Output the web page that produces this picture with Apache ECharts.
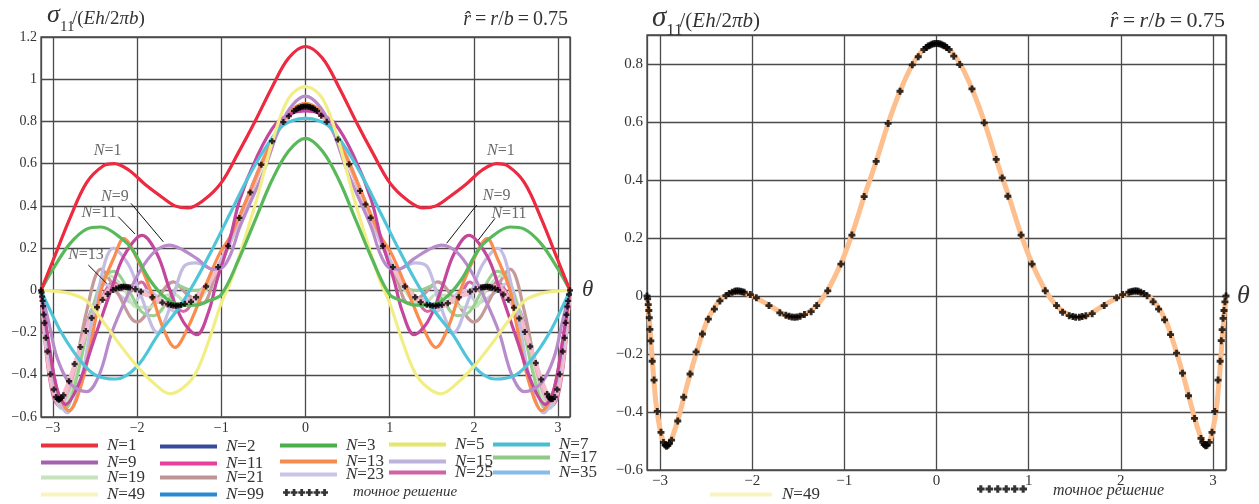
<!DOCTYPE html>
<html><head><meta charset="utf-8">
<script src="https://cdn.jsdelivr.net/npm/echarts@6/dist/echarts.min.js"></script>
<style>html,body{margin:0;padding:0;background:#fff}#c{width:1259px;height:504px}</style>
</head><body><div id="c"></div>
<script>
// ---------- data: [theta, sigma11/(Eh/2πb)] ----------
const n1 = [[-3.1416,0],[-3.0,0.14],[-2.8,0.34],[-2.6,0.51],[-2.4,0.59],[-2.27,0.60],[-2.1,0.57],[-1.9,0.50],[-1.7,0.44],[-1.55,0.40],[-1.4,0.39],[-1.2,0.43],[-1.0,0.51],[-0.8,0.65],[-0.6,0.80],[-0.4,0.96],[-0.2,1.10],[0,1.155],[0.2,1.10],[0.4,0.96],[0.6,0.80],[0.8,0.65],[1.0,0.51],[1.2,0.43],[1.4,0.39],[1.55,0.40],[1.7,0.44],[1.9,0.50],[2.1,0.57],[2.27,0.60],[2.4,0.59],[2.6,0.51],[2.8,0.34],[3.0,0.14],[3.1416,0]];
const n2 = n1; // N=2 lies under N=1 in the picture
const n3 = [[-3.1416,0],[-3.0,0.10],[-2.8,0.22],[-2.6,0.29],[-2.43,0.30],[-2.2,0.25],[-2.05,0.19],[-1.85,0.05],[-1.65,-0.04],[-1.45,-0.07],[-1.3,-0.07],[-1.15,-0.05],[-1.0,-0.02],[-0.8,0.14],[-0.6,0.33],[-0.4,0.52],[-0.2,0.66],[0,0.72],[0.2,0.66],[0.4,0.52],[0.6,0.33],[0.8,0.14],[1.0,-0.02],[1.15,-0.05],[1.3,-0.07],[1.45,-0.07],[1.65,-0.04],[1.85,0.05],[2.05,0.19],[2.2,0.25],[2.43,0.30],[2.6,0.29],[2.8,0.22],[3.0,0.10],[3.1416,0]];
const n5 = [[-3.1416,0],[-2.95,-0.005],[-2.8,-0.015],[-2.6,-0.05],[-2.4,-0.15],[-2.2,-0.26],[-2.0,-0.36],[-1.8,-0.44],[-1.61,-0.49],[-1.45,-0.46],[-1.3,-0.39],[-1.15,-0.24],[-1.0,-0.06],[-0.9,0.03],[-0.78,0.17],[-0.58,0.43],[-0.39,0.71],[-0.2,0.91],[0,0.965],[0.2,0.91],[0.39,0.71],[0.58,0.43],[0.78,0.17],[0.9,0.03],[1.0,-0.06],[1.15,-0.24],[1.3,-0.39],[1.45,-0.46],[1.61,-0.49],[1.8,-0.44],[2.0,-0.36],[2.2,-0.26],[2.4,-0.15],[2.6,-0.05],[2.8,-0.015],[2.95,-0.005],[3.1416,0]];
const n7 = [[-3.1416,0],[-3.05,-0.08],[-2.9,-0.2],[-2.7,-0.32],[-2.5,-0.40],[-2.25,-0.42],[-2.0,-0.36],[-1.75,-0.21],[-1.5,-0.08],[-1.3,0.05],[-1.1,0.2],[-0.9,0.36],[-0.7,0.52],[-0.5,0.66],[-0.3,0.77],[-0.15,0.805],[0,0.815],[0.15,0.805],[0.3,0.77],[0.5,0.66],[0.7,0.52],[0.9,0.36],[1.1,0.2],[1.3,0.05],[1.5,-0.08],[1.75,-0.21],[2.0,-0.36],[2.25,-0.42],[2.5,-0.40],[2.7,-0.32],[2.9,-0.2],[3.05,-0.08],[3.1416,0]];
const n9 = [[-3.1416,0],[-3.05,-0.15],[-2.95,-0.32],[-2.8,-0.44],[-2.6,-0.48],[-2.45,-0.40],[-2.3,-0.2],[-2.12,-0.03],[-1.96,0.095],[-1.8,0.18],[-1.62,0.214],[-1.45,0.19],[-1.29,0.15],[-1.1,0.10],[-0.98,0.11],[-0.88,0.18],[-0.78,0.30],[-0.5,0.56],[-0.3,0.78],[-0.15,0.88],[0,0.92],[0.15,0.88],[0.3,0.78],[0.5,0.56],[0.78,0.30],[0.88,0.18],[0.98,0.11],[1.1,0.10],[1.29,0.15],[1.45,0.19],[1.62,0.214],[1.8,0.18],[1.96,0.095],[2.12,-0.03],[2.3,-0.2],[2.45,-0.40],[2.6,-0.48],[2.8,-0.44],[2.95,-0.32],[3.05,-0.15],[3.1416,0]];
const n11 = [[-3.1416,0],[-3.05,-0.25],[-2.95,-0.47],[-2.85,-0.54],[-2.7,-0.45],[-2.5,-0.22],[-2.31,0.0],[-2.16,0.16],[-1.94,0.26],[-1.76,0.17],[-1.61,0.0],[-1.45,-0.15],[-1.29,-0.21],[-1.15,-0.10],[-1.05,0.05],[-0.9,0.24],[-0.78,0.43],[-0.58,0.63],[-0.35,0.79],[-0.15,0.84],[0,0.85],[0.15,0.84],[0.35,0.79],[0.58,0.63],[0.78,0.43],[0.9,0.24],[1.05,0.05],[1.15,-0.10],[1.29,-0.21],[1.45,-0.15],[1.61,0.0],[1.76,0.17],[1.94,0.26],[2.16,0.16],[2.31,0.0],[2.5,-0.22],[2.7,-0.45],[2.85,-0.54],[2.95,-0.47],[3.05,-0.25],[3.1416,0]];
const n13 = [[-3.1416,0],[-3.05,-0.25],[-2.95,-0.47],[-2.81,-0.57],[-2.65,-0.43],[-2.5,-0.15],[-2.43,0.0],[-2.27,0.16],[-2.16,0.245],[-2.0,0.15],[-1.84,0.0],[-1.7,-0.17],[-1.55,-0.27],[-1.4,-0.18],[-1.2,0.01],[-1.02,0.175],[-0.9,0.25],[-0.7,0.43],[-0.5,0.62],[-0.3,0.78],[-0.15,0.86],[0,0.885],[0.15,0.86],[0.3,0.78],[0.5,0.62],[0.7,0.43],[0.9,0.25],[1.02,0.175],[1.2,0.01],[1.4,-0.18],[1.55,-0.27],[1.7,-0.17],[1.84,0.0],[2.0,0.15],[2.16,0.245],[2.27,0.16],[2.43,0.0],[2.5,-0.15],[2.65,-0.43],[2.81,-0.57],[2.95,-0.47],[3.05,-0.25],[3.1416,0]];
const n15 = [[-3.1416,0],[-3.05,-0.3],[-2.95,-0.5],[-2.83,-0.58],[-2.68,-0.45],[-2.5,-0.08],[-2.28,0.20],[-2.1,0.12],[-1.95,-0.03],[-1.76,-0.20],[-1.6,-0.07],[-1.45,0.11],[-1.3,0.13],[-1.1,0.10],[-0.95,0.18],[-0.8,0.33],[-0.6,0.53],[-0.4,0.71],[-0.2,0.84],[0,0.88],[0.2,0.84],[0.4,0.71],[0.6,0.53],[0.8,0.33],[0.95,0.18],[1.1,0.10],[1.3,0.13],[1.45,0.11],[1.6,-0.07],[1.76,-0.20],[1.95,-0.03],[2.1,0.12],[2.28,0.20],[2.5,-0.08],[2.68,-0.45],[2.83,-0.58],[2.95,-0.5],[3.05,-0.3],[3.1416,0]];
const n17 = [[-3.1416,0],[-3.05,-0.28],[-2.95,-0.50],[-2.85,-0.56],[-2.72,-0.42],[-2.55,-0.12],[-2.4,0.06],[-2.28,0.09],[-2.1,0.0],[-1.95,-0.1],[-1.8,-0.12],[-1.62,-0.04],[-1.5,0.02],[-1.35,0.0],[-1.2,0.01],[-1.05,0.1],[-0.9,0.22],[-0.78,0.34],[-0.65,0.46],[-0.52,0.59],[-0.4,0.70],[-0.26,0.80],[-0.13,0.855],[0,0.875],[0.13,0.855],[0.26,0.80],[0.4,0.70],[0.52,0.59],[0.65,0.46],[0.78,0.34],[0.9,0.22],[1.05,0.1],[1.2,0.01],[1.35,0.0],[1.5,0.02],[1.62,-0.04],[1.8,-0.12],[1.95,-0.1],[2.1,0.0],[2.28,0.09],[2.4,0.06],[2.55,-0.12],[2.72,-0.42],[2.85,-0.56],[2.95,-0.50],[3.05,-0.28],[3.1416,0]];
const n19 = [[-3.1416,0],[-3.06,-0.3],[-2.97,-0.50],[-2.88,-0.55],[-2.76,-0.45],[-2.6,-0.2],[-2.45,0.02],[-2.33,0.07],[-2.18,0.02],[-2.0,-0.08],[-1.85,-0.08],[-1.7,-0.03],[-1.55,-0.02],[-1.4,-0.07],[-1.25,-0.04],[-1.1,0.06],[-0.95,0.18],[-0.8,0.33],[-0.65,0.46],[-0.52,0.6],[-0.4,0.71],[-0.26,0.8],[-0.13,0.85],[0,0.87],[0.13,0.85],[0.26,0.8],[0.4,0.71],[0.52,0.6],[0.65,0.46],[0.8,0.33],[0.95,0.18],[1.1,0.06],[1.25,-0.04],[1.4,-0.07],[1.55,-0.02],[1.7,-0.03],[1.85,-0.08],[2.0,-0.08],[2.18,0.02],[2.33,0.07],[2.45,0.02],[2.6,-0.2],[2.76,-0.45],[2.88,-0.55],[2.97,-0.50],[3.06,-0.3],[3.1416,0]];
const n21 = [[-3.1416,0],[-3.05,-0.3],[-2.95,-0.52],[-2.86,-0.56],[-2.75,-0.40],[-2.6,-0.1],[-2.43,0.10],[-2.25,0.0],[-2.0,-0.15],[-1.78,-0.05],[-1.57,0.04],[-1.4,-0.02],[-1.22,-0.06],[-1.08,0.06],[-0.95,0.19],[-0.8,0.32],[-0.65,0.46],[-0.52,0.6],[-0.4,0.71],[-0.26,0.8],[-0.13,0.855],[0,0.88],[0.13,0.855],[0.26,0.8],[0.4,0.71],[0.52,0.6],[0.65,0.46],[0.8,0.32],[0.95,0.19],[1.08,0.06],[1.22,-0.06],[1.4,-0.02],[1.57,0.04],[1.78,-0.05],[2.0,-0.15],[2.25,0.0],[2.43,0.10],[2.6,-0.1],[2.75,-0.40],[2.86,-0.56],[2.95,-0.52],[3.05,-0.3],[3.1416,0]];
const n23 = [[-3.1416,0],[-3.07,-0.3],[-2.98,-0.5],[-2.9,-0.56],[-2.8,-0.47],[-2.65,-0.24],[-2.5,-0.05],[-2.38,0.03],[-2.22,-0.02],[-2.05,-0.06],[-1.9,0.0],[-1.75,-0.03],[-1.55,-0.1],[-1.4,-0.04],[-1.28,-0.04],[-1.15,0.03],[-1.0,0.14],[-0.85,0.28],[-0.7,0.42],[-0.55,0.57],[-0.4,0.70],[-0.26,0.80],[-0.13,0.86],[0,0.885],[0.13,0.86],[0.26,0.80],[0.4,0.70],[0.55,0.57],[0.7,0.42],[0.85,0.28],[1.0,0.14],[1.15,0.03],[1.28,-0.04],[1.4,-0.04],[1.55,-0.1],[1.75,-0.03],[1.9,0.0],[2.05,-0.06],[2.22,-0.02],[2.38,0.03],[2.5,-0.05],[2.65,-0.24],[2.8,-0.47],[2.9,-0.56],[2.98,-0.5],[3.07,-0.3],[3.1416,0]];
const n25 = [[-3.1416,0],[-3.08,-0.3],[-3.0,-0.5],[-2.92,-0.55],[-2.82,-0.45],[-2.7,-0.3],[-2.55,-0.1],[-2.42,-0.03],[-2.28,0.04],[-2.1,-0.01],[-1.95,0.04],[-1.8,-0.05],[-1.62,-0.06],[-1.45,-0.1],[-1.3,-0.03],[-1.18,0.03],[-1.04,0.11],[-0.9,0.23],[-0.78,0.35],[-0.65,0.47],[-0.52,0.6],[-0.4,0.71],[-0.26,0.8],[-0.13,0.855],[0,0.875],[0.13,0.855],[0.26,0.8],[0.4,0.71],[0.52,0.6],[0.65,0.47],[0.78,0.35],[0.9,0.23],[1.04,0.11],[1.18,0.03],[1.3,-0.03],[1.45,-0.1],[1.62,-0.06],[1.8,-0.05],[1.95,0.04],[2.1,-0.01],[2.28,0.04],[2.42,-0.03],[2.55,-0.1],[2.7,-0.3],[2.82,-0.45],[2.92,-0.55],[3.0,-0.5],[3.08,-0.3],[3.1416,0]];
const n35 = [[-3.1416,0],[-3.11,-0.12],[-3.08,-0.25],[-3.04,-0.38],[-3.0,-0.47],[-2.95,-0.52],[-2.91,-0.53],[-2.86,-0.5],[-2.78,-0.41],[-2.68,-0.28],[-2.58,-0.17],[-2.48,-0.08],[-2.38,-0.02],[-2.27,0.02],[-2.12,0.02],[-1.98,-0.01],[-1.82,-0.03],[-1.65,-0.07],[-1.52,-0.08],[-1.4,-0.055],[-1.3,-0.03],[-1.18,0.02],[-1.04,0.11],[-0.92,0.21],[-0.785,0.34],[-0.655,0.465],[-0.525,0.595],[-0.396,0.705],[-0.263,0.795],[-0.137,0.85],[0,0.875],[0.137,0.85],[0.263,0.795],[0.396,0.705],[0.525,0.595],[0.655,0.465],[0.785,0.34],[0.92,0.21],[1.04,0.11],[1.18,0.02],[1.3,-0.03],[1.4,-0.055],[1.52,-0.08],[1.65,-0.07],[1.82,-0.03],[1.98,-0.01],[2.12,0.02],[2.27,0.02],[2.38,-0.02],[2.48,-0.08],[2.58,-0.17],[2.68,-0.28],[2.78,-0.41],[2.86,-0.5],[2.91,-0.53],[2.95,-0.52],[3.0,-0.47],[3.04,-0.38],[3.08,-0.25],[3.11,-0.12],[3.1416,0]];
const n49 = [[-3.1416,0],[-3.12,-0.07],[-3.1,-0.15],[-3.07,-0.28],[-3.04,-0.38],[-3.0,-0.46],[-2.96,-0.505],[-2.93,-0.52],[-2.9,-0.51],[-2.87,-0.49],[-2.8,-0.42],[-2.7,-0.30],[-2.6,-0.19],[-2.5,-0.095],[-2.4,-0.035],[-2.3,0.0],[-2.15,0.015],[-2.0,0.0],[-1.8,-0.035],[-1.6,-0.072],[-1.53,-0.074],[-1.4,-0.058],[-1.3,-0.033],[-1.18,0.02],[-1.04,0.11],[-0.92,0.21],[-0.785,0.343],[-0.655,0.464],[-0.525,0.595],[-0.396,0.706],[-0.263,0.797],[-0.137,0.85],[0,0.872],[0.137,0.85],[0.263,0.797],[0.396,0.706],[0.525,0.595],[0.655,0.464],[0.785,0.343],[0.92,0.21],[1.04,0.11],[1.18,0.02],[1.3,-0.033],[1.4,-0.058],[1.53,-0.074],[1.6,-0.072],[1.8,-0.035],[2.0,0.0],[2.15,0.015],[2.3,0.0],[2.4,-0.035],[2.5,-0.095],[2.6,-0.19],[2.7,-0.30],[2.8,-0.42],[2.87,-0.49],[2.9,-0.51],[2.93,-0.52],[2.96,-0.505],[3.0,-0.46],[3.04,-0.38],[3.07,-0.28],[3.1,-0.15],[3.12,-0.07],[3.1416,0]];
const n99 = [[-3.1416,0],[-3.12,-0.06],[-3.1,-0.14],[-3.07,-0.27],[-3.04,-0.37],[-3.0,-0.455],[-2.96,-0.50],[-2.93,-0.518],[-2.9,-0.512],[-2.87,-0.495],[-2.8,-0.42],[-2.7,-0.30],[-2.6,-0.185],[-2.5,-0.095],[-2.4,-0.04],[-2.3,-0.003],[-2.15,0.017],[-2.0,0.002],[-1.8,-0.036],[-1.6,-0.07],[-1.53,-0.074],[-1.4,-0.06],[-1.3,-0.033],[-1.18,0.018],[-1.04,0.11],[-0.92,0.21],[-0.785,0.343],[-0.655,0.464],[-0.525,0.595],[-0.396,0.706],[-0.263,0.797],[-0.137,0.85],[0,0.871],[0.137,0.85],[0.263,0.797],[0.396,0.706],[0.525,0.595],[0.655,0.464],[0.785,0.343],[0.92,0.21],[1.04,0.11],[1.18,0.018],[1.3,-0.033],[1.4,-0.06],[1.53,-0.074],[1.6,-0.07],[1.8,-0.036],[2.0,0.002],[2.15,0.017],[2.3,-0.003],[2.4,-0.04],[2.5,-0.095],[2.6,-0.185],[2.7,-0.30],[2.8,-0.42],[2.87,-0.495],[2.9,-0.512],[2.93,-0.518],[2.96,-0.50],[3.0,-0.455],[3.04,-0.37],[3.07,-0.27],[3.1,-0.14],[3.12,-0.06],[3.1416,0]];
// exact solution ("точное решение") markers
const exact = [[-3.1416,0],[-3.135,-0.01],[-3.128,-0.03],[-3.122,-0.05],[-3.117,-0.075],[-3.11,-0.115],[-3.10,-0.155],[-3.085,-0.225],[-3.065,-0.29],[-3.03,-0.398],[-2.99,-0.47],[-2.963,-0.505],[-2.945,-0.514],[-2.93,-0.518],[-2.915,-0.515],[-2.9,-0.509],[-2.875,-0.497],[-2.808,-0.431],[-2.743,-0.349],[-2.674,-0.269],[-2.609,-0.193],[-2.54,-0.131],[-2.476,-0.080],[-2.41,-0.045],[-2.35,-0.017],[-2.285,0.001],[-2.25,0.009],[-2.217,0.013],[-2.19,0.016],[-2.17,0.017],[-2.152,0.017],[-2.13,0.016],[-2.11,0.015],[-2.087,0.013],[-2.02,0.005],[-1.955,-0.006],[-1.818,-0.033],[-1.70,-0.058],[-1.635,-0.066],[-1.60,-0.070],[-1.57,-0.072],[-1.54,-0.073],[-1.51,-0.072],[-1.48,-0.070],[-1.433,-0.064],[-1.36,-0.054],[-1.30,-0.033],[-1.18,0.018],[-1.037,0.110],[-0.918,0.210],[-0.785,0.343],[-0.655,0.464],[-0.525,0.595],[-0.396,0.706],[-0.263,0.797],[-0.198,0.825],[-0.137,0.850],[-0.11,0.857],[-0.09,0.862],[-0.07,0.865],[-0.05,0.868],[-0.03,0.870],[-0.01,0.871],[0.01,0.871],[0.03,0.870],[0.05,0.868],[0.07,0.865],[0.09,0.862],[0.11,0.857],[0.137,0.850],[0.187,0.827],[0.252,0.798],[0.385,0.714],[0.518,0.597],[0.648,0.471],[0.713,0.407],[0.774,0.344],[0.918,0.210],[1.037,0.110],[1.18,0.018],[1.303,-0.033],[1.368,-0.056],[1.44,-0.068],[1.48,-0.071],[1.51,-0.073],[1.55,-0.073],[1.58,-0.071],[1.62,-0.068],[1.69,-0.061],[1.82,-0.033],[1.955,-0.006],[2.02,0.005],[2.087,0.013],[2.11,0.015],[2.13,0.016],[2.152,0.017],[2.17,0.017],[2.19,0.016],[2.217,0.013],[2.25,0.009],[2.285,0.001],[2.35,-0.020],[2.41,-0.045],[2.475,-0.082],[2.54,-0.133],[2.605,-0.197],[2.67,-0.266],[2.735,-0.344],[2.80,-0.422],[2.87,-0.491],[2.89,-0.505],[2.905,-0.512],[2.92,-0.516],[2.935,-0.515],[2.96,-0.505],[2.99,-0.470],[3.02,-0.398],[3.055,-0.290],[3.078,-0.225],[3.09,-0.154],[3.10,-0.116],[3.11,-0.077],[3.12,-0.050],[3.13,-0.020],[3.1416,0]];
// annotations on the left panel: [theta, value, text]
const annLabels = [[-2.35,0.661,'1'],[2.32,0.661,'1'],[-2.263,0.444,'9'],[-2.453,0.365,'11'],[-2.607,0.167,'13'],[2.271,0.447,'9'],[2.417,0.362,'11']];
// arrows: [theta0, v0, theta1, v1]
const annArrows = [[-2.073,0.412,-1.689,0.230],[-2.224,0.349,-2.025,0.267],[-2.58,0.12,-2.361,0.033],[2.033,0.404,1.677,0.223],[2.251,0.341,2.052,0.238]];
// legend entries of the left panel, column by column
const legendCols = [['N=1','N=9','N=19','N=49'],['N=2','N=11','N=21','N=99'],['N=3','N=13','N=23'],['N=5','N=15','N=25'],['N=7','N=17','N=35']];

// ---------- styles & layout ----------
const SERIF = 'Liberation Serif';
const TXT = '#333';
const GRIDC = '#4a4a4a';
const styleOf = {
 'N=1':['#ee2a40','#e8323c',3.2],'N=2':['#384a9a','#384a9a',2],'N=3':['#58b85a','#4cae4c',3.2],
 'N=5':['#f2ee86','#e6e66e',3.2],'N=7':['#50c5da','#46bfd2',3.2],'N=9':['#b88ccb','#a462ac',3.2],
 'N=11':['#c4479d','#e8409a',3.2],'N=13':['#f98c4e','#f58b4c',3.2],'N=15':['#c3bde3','#bcb2da',3.2],
 'N=17':['#98d090','#8fcb86',3],'N=19':['#c6e3be','#c6e3be',3],'N=21':['#c49a9a','#bf9494',3.2],
 'N=23':['#c9c6e6','#c9c6e6',3],'N=25':['#d26aa8','#d062a6',3],'N=35':['#f3b0c2','#86bce8',4.5],
 'N=49':['#f6bccb','#f8f3c0',4],'N=99':['#2a8ad0','#2a8ad0',2]
};
const dataOf = {'N=1':n1,'N=2':n2,'N=3':n3,'N=5':n5,'N=7':n7,'N=9':n9,'N=11':n11,'N=13':n13,'N=15':n15,'N=17':n17,'N=19':n19,'N=21':n21,'N=23':n23,'N=25':n25,'N=35':n35,'N=49':n49,'N=99':n99};
const drawOrder = ['N=99','N=2','N=25','N=23','N=21','N=19','N=17','N=35','N=49','N=15','N=13','N=11','N=9','N=7','N=5','N=3','N=1'];
const legendX = [41,160,280,389,493];
const legendRowY = [[445,462,477,494],[446,463,477,494],[445,461,474],[444,461,472],[444,457,472]];
const PLUS = 'path://M3,0h4v3h3v4h-3v3h-4v-3h-3v-4h3z';
let plusRow = 'path://';
for (let i = 0; i < 6; i++) { const x = i * 10; plusRow += `M${x+3.2},1h3.6v2.7h2.7v3.6h-2.7v2.7h-3.6v-2.7h-2.7v-3.6h2.7z`; }

function fmtY(v){
  if (Math.abs(v/0.2 - Math.round(v/0.2)) > 1e-6) return '';
  const r = Math.round(v*10)/10;
  if (Math.abs(r) < 1e-9) return '0';
  return (r < 0 ? '\u2212' : '') + String(Math.abs(r));
}
function fmtX(v){
  if (Math.abs(v - Math.round(v)) > 1e-6) return '';
  const r = Math.round(v);
  return (r < 0 ? '\u2212' : '') + String(Math.abs(r));
}
function xAxisCfg(gi, fs, nameFs, gap, padTop){
  return {type:'value', gridIndex:gi, min:-Math.PI, max:Math.PI, splitNumber:6,
    axisLine:{show:false}, axisTick:{show:false},
    splitLine:{show:true, lineStyle:{color:GRIDC, width:1.3}},
    axisLabel:{formatter:fmtX, margin:4, fontFamily:SERIF, fontSize:fs, color:TXT, showMinLabel:true, showMaxLabel:true},
    name:'θ', nameLocation:'end', nameGap:gap,
    nameTextStyle:{fontFamily:SERIF, fontStyle:'italic', fontSize:nameFs, color:TXT, verticalAlign:'middle', padding:[padTop,0,0,0]}};
}
function yAxisCfg(gi, min, max, fs){
  return {type:'value', gridIndex:gi, min:min, max:max, interval:0.2,
    axisLine:{show:false}, axisTick:{show:false},
    splitLine:{show:true, lineStyle:{color:GRIDC, width:1.3}},
    axisLabel:{formatter:fmtY, margin:4, fontFamily:SERIF, fontSize:fs, color:TXT}};
}

const series = [];
drawOrder.forEach(nm => {
  const s = styleOf[nm];
  series.push({name:nm, type:'line', xAxisIndex:0, yAxisIndex:0, data:dataOf[nm], smooth:0.35, z:2,
    showSymbol:false, silent:true, lineStyle:{color:s[0], width:s[2]}, itemStyle:{color:s[1]}, emphasis:{disabled:true}});
});
series.push({name:'exactL', type:'scatter', xAxisIndex:0, yAxisIndex:0, data:exact, symbol:PLUS, symbolSize:6, z:10,
  itemStyle:{color:'#000'}, silent:true, emphasis:{disabled:true}});
series.push({name:'ann', type:'scatter', xAxisIndex:0, yAxisIndex:0, silent:true, symbol:'circle', symbolSize:1, z:11,
  itemStyle:{color:'rgba(0,0,0,0)'},
  data: annLabels.map(a => ({value:[a[0], a[1]], label:{show:true, position:'inside',
    formatter:'{i|N}{t|=' + a[2] + '}', rich:{i:{fontFamily:SERIF, fontStyle:'italic', fontSize:16, color:'#444'}, t:{fontFamily:SERIF, fontSize:16, color:'#444'}}}})),
  markLine:{silent:true, symbol:['none','arrow'], symbolSize:[0,9], animation:false, z:11,
    lineStyle:{color:'#111', width:1, type:'solid'}, label:{show:false}, emphasis:{disabled:true},
    data: annArrows.map(a => [{coord:[a[0],a[1]]},{coord:[a[2],a[3]]}])}
});
// right panel
series.push({name:'R49', type:'line', xAxisIndex:1, yAxisIndex:1, data:n49, smooth:0.35, showSymbol:false, silent:true, z:2,
  lineStyle:{color:'#fdbf8d', width:5}, itemStyle:{color:'#f8f3c0'}, emphasis:{disabled:true}});
series.push({name:'exactR', type:'scatter', xAxisIndex:1, yAxisIndex:1, data:exact, symbol:PLUS, symbolSize:7, z:10,
  itemStyle:{color:'#000'}, silent:true, emphasis:{disabled:true}});

function richN(pad){ return {i:{fontFamily:SERIF, fontStyle:'italic', fontSize:17, color:TXT, lineHeight:16, padding:[0,0,0,pad]}, t:{fontFamily:SERIF, fontSize:17, color:TXT, lineHeight:16}}; }
const legends = [];
legendCols.forEach((col, k) => col.forEach((n, r) => {
  legends.push({left:legendX[k], top:legendRowY[k][r] - 8, padding:0, itemWidth:57, itemHeight:4, icon:'rect', selectedMode:false,
    data:[{name:n, itemStyle:{color:styleOf[n][1]}}],
    formatter:'{i|N}{t|' + n.slice(1) + '}', textStyle:{fontFamily:SERIF, fontSize:17, color:TXT, lineHeight:16, rich:richN(4)}});
}));
legends.push({left:283, top:485, padding:0, itemWidth:45, itemHeight:7, selectedMode:false,
  data:[{name:'exactL', icon:plusRow, itemStyle:{color:'#000'}}],
  formatter:'{e|точное решение}',
  textStyle:{rich:{e:{fontFamily:SERIF, fontStyle:'italic', fontSize:15, color:TXT, padding:[0,0,0,20]}}}});
legends.push({left:710, top:486, padding:0, itemWidth:62, itemHeight:4, icon:'rect', selectedMode:false,
  data:[{name:'R49', itemStyle:{color:'#f8f3c0'}}],
  formatter:'{i|N}{t|=49}', textStyle:{fontFamily:SERIF, fontSize:17, color:TXT, lineHeight:16, rich:richN(5)}});
legends.push({left:977, top:483, padding:0, itemWidth:50, itemHeight:8, selectedMode:false,
  data:[{name:'exactR', icon:plusRow, itemStyle:{color:'#000'}}],
  formatter:'{e|точное решение}',
  textStyle:{rich:{e:{fontFamily:SERIF, fontStyle:'italic', fontSize:16, color:TXT, padding:[4,0,0,21]}}}});

function titleParts(x, s){
  return [
    {type:'text', left:x, top:2*s+(s>1?2:0), style:{text:'σ', fontFamily:SERIF, fontStyle:'italic', fontSize:Math.round(26*s), fill:TXT}},
    {type:'text', left:x+13*s, top:19.5*s+(s>1?1:0), style:{text:'11', fontFamily:SERIF, fontSize:Math.round(15*s), fill:TXT}},
    {type:'text', left:x+25*s, top:9.5*s+(s>1?1:0), style:{text:'/({i|Eh}/2{i|πb})', fontFamily:SERIF, fontSize:Math.round(19*s), fill:TXT,
      rich:{i:{fontFamily:SERIF, fontStyle:'italic', fontSize:Math.round(19*s), fill:TXT}}}}
  ];
}
function rhat(right, fs){
  return {type:'text', right:right, top:10, style:{text:'{i|r̂}\u2009=\u2009{i|r}/{i|b}\u2009=\u20090.75', fontFamily:SERIF, fontSize:fs, fill:TXT,
    rich:{i:{fontFamily:SERIF, fontStyle:'italic', fontSize:fs, fill:TXT}}}};
}

const option = {
  animation:false,
  backgroundColor:'#fff',
  grid:[
    {left:41, top:37, width:529, height:380, show:true, borderColor:GRIDC, borderWidth:1.3},
    {left:647, top:35, width:579, height:435, show:true, borderColor:GRIDC, borderWidth:1.3}
  ],
  xAxis:[xAxisCfg(0, 14, 23, 12, 11), xAxisCfg(1, 15, 26, 11, 7)],
  yAxis:[yAxisCfg(0, -0.6, 1.2, 14), yAxisCfg(1, -0.6, 0.9, 15)],
  legend:legends,
  series:series,
  graphic:[...titleParts(47, 1), ...titleParts(652, 1.1), rhat(691, 20), rhat(34, 22)]
};
const chart = echarts.init(document.getElementById('c'), null, {renderer:'canvas'});
chart.setOption(option);
</script>
</body></html>
